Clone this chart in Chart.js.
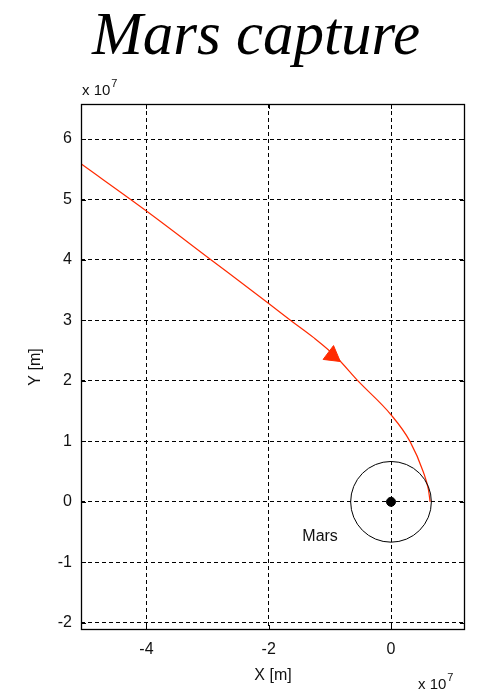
<!DOCTYPE html>
<html>
<head>
<meta charset="utf-8">
<script src="https://cdn.jsdelivr.net/npm/chart.js@4.4.1/dist/chart.umd.min.js"></script>
<style>
  html, body { margin: 0; padding: 0; background: #fff; }
  #chart { display: block; }
</style>
</head>
<body>
<canvas id="chart" width="477" height="690"></canvas>
<script>
// Data (units of 1e7 m)
const trajX = [-5.07, -4.00, -2.94, -2.00, -1.64, -1.27, -0.90, -0.54, 0.00, 0.31, 0.53, 0.61, 0.64];
const trajY = [ 5.59,  4.81,  4.00,  3.28,  3.00,  2.72,  2.40,  2.00, 1.44, 1.00, 0.49, 0.21, 0.00];
const arrowX = [-0.96];
const arrowY = [2.42];
const marsX = [0];
const marsY = [0];
const marsRadius = 0.66;
const xTicks = [-4, -2, 0];
const yTicks = [-2, -1, 0, 1, 2, 3, 4, 5, 6];
const xTickLabels = ["-4", "-2", "0"];
const yTickLabels = ["-2", "-1", "0", "1", "2", "3", "4", "5", "6"];

const RED = "#ff2a00";
const tickFont = { family: "'Liberation Sans', Arial, sans-serif", size: 16 };

const zip = (xs, ys) => xs.map((x, i) => ({ x, y: ys[i] }));

// Extra drawing: frame, Mars circle, labels, exponent, title
const decor = {
  id: "decor",
  afterDatasetsDraw(chart) {
    const { ctx, scales: { x, y } } = chart;
    // Mars circle
    const cx = x.getPixelForValue(marsX[0]);
    const cy = y.getPixelForValue(marsY[0]);
    const r = x.getPixelForValue(marsRadius) - cx;
    ctx.save();
    ctx.strokeStyle = "#000";
    ctx.lineWidth = 1;
    ctx.beginPath();
    ctx.arc(cx, cy, r, 0, Math.PI * 2);
    ctx.stroke();
    ctx.restore();
  },
  afterDraw(chart) {
    const { ctx, chartArea: a, scales: { x, y } } = chart;
    ctx.save();
    // frame
    ctx.strokeStyle = "#000";
    ctx.lineWidth = 1.3;
    ctx.strokeRect(a.left + 0.5, a.top + 0.5, a.right - a.left - 1, a.bottom - a.top - 1);
    // inward tick marks
    ctx.lineWidth = 1;
    ctx.beginPath();
    xTicks.forEach(v => {
      const px = Math.round(x.getPixelForValue(v)) + 0.5;
      ctx.moveTo(px, a.bottom); ctx.lineTo(px, a.bottom - 5);
      ctx.moveTo(px, a.top); ctx.lineTo(px, a.top + 5);
    });
    yTicks.forEach(v => {
      const py = Math.round(y.getPixelForValue(v)) + 0.5;
      ctx.moveTo(a.left, py); ctx.lineTo(a.left + 5, py);
      ctx.moveTo(a.right, py); ctx.lineTo(a.right - 5, py);
    });
    ctx.stroke();

    // Mars label
    ctx.fillStyle = "#111";
    ctx.font = "16px 'Liberation Sans', Arial, sans-serif";
    ctx.textAlign = "center";
    ctx.textBaseline = "middle";
    ctx.fillText("Mars", x.getPixelForValue(-1.16), y.getPixelForValue(-0.58));

    // exponent labels
    const expo = (px, py) => {
      ctx.textAlign = "left";
      ctx.textBaseline = "alphabetic";
      ctx.font = "15px 'Liberation Sans', Arial, sans-serif";
      ctx.fillText("x 10", px, py);
      const w = ctx.measureText("x 10").width;
      ctx.font = "11px 'Liberation Sans', Arial, sans-serif";
      ctx.fillText("7", px + w + 1, py - 8);
    };
    expo(82, 95);
    expo(418, 689);

    // title
    ctx.fillStyle = "#000";
    ctx.font = "italic 61px 'Liberation Serif', 'Times New Roman', serif";
    ctx.textAlign = "center";
    ctx.textBaseline = "alphabetic";
    ctx.fillText("Mars capture", 256, 54);
    ctx.restore();
  }
};

new Chart(document.getElementById("chart"), {
  type: "scatter",
  data: {
    datasets: [
      {
        label: "trajectory",
        data: zip(trajX, trajY),
        showLine: true,
        borderColor: RED,
        borderWidth: 1.2,
        pointRadius: 0,
        cubicInterpolationMode: "monotone",
        order: 3
      },
      {
        label: "arrow",
        data: zip(arrowX, arrowY),
        pointStyle: "triangle",
        rotation: 127,
        pointRadius: 10,
        backgroundColor: RED,
        borderColor: RED,
        borderWidth: 1,
        order: 1
      },
      {
        label: "Mars",
        data: zip(marsX, marsY),
        pointStyle: "circle",
        pointRadius: 4.5,
        backgroundColor: "#000",
        borderColor: "#000",
        order: 2
      }
    ]
  },
  options: {
    responsive: false,
    devicePixelRatio: 1,
    animation: false,
    layout: { padding: { top: 104, right: 12, left: 0, bottom: 0 } },
    plugins: {
      legend: { display: false },
      tooltip: { enabled: false }
    },
    scales: {
      x: {
        type: "linear",
        min: -5.07,
        max: 1.21,
        afterBuildTicks: s => { s.ticks = xTicks.map(v => ({ value: v })); },
        afterFit: s => { s.height = 60; },
        ticks: {
          font: tickFont,
          color: "#111",
          padding: 10,
          callback: v => xTickLabels[xTicks.indexOf(v)]
        },
        grid: { color: "#000", lineWidth: 1, drawTicks: false },
        border: { display: false, dash: [4, 3] },
        title: {
          display: true,
          text: "X [m]",
          color: "#111",
          font: tickFont,
          padding: { top: 0, bottom: 5 }
        }
      },
      y: {
        type: "linear",
        min: -2.12,
        max: 6.58,
        afterBuildTicks: s => { s.ticks = yTicks.map(v => ({ value: v })); },
        afterFit: s => { s.width = 81; },
        ticks: {
          font: tickFont,
          color: "#111",
          padding: 9,
          callback: v => yTickLabels[yTicks.indexOf(v)]
        },
        grid: { color: "#000", lineWidth: 1, drawTicks: false },
        border: { display: false, dash: [4, 3] },
        title: {
          display: true,
          text: "Y [m]",
          color: "#111",
          font: tickFont,
          padding: { top: 26, bottom: 0 }
        }
      }
    }
  },
  plugins: [decor]
});
</script>
</body>
</html>
